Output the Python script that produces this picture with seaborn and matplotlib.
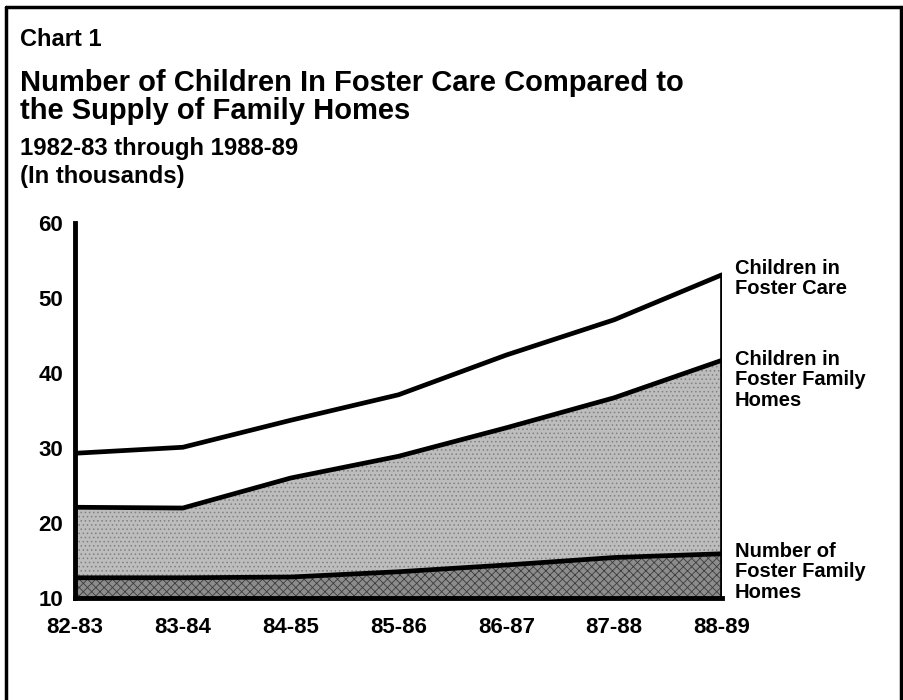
import numpy as np
import pandas as pd
import seaborn as sns
import matplotlib
matplotlib.use("Agg")
import matplotlib.pyplot as plt
from matplotlib.lines import Line2D

# values in thousands
years = ["82-83", "83-84", "84-85", "85-86", "86-87", "87-88", "88-89"]
children_foster_care = [29.3, 30.1, 33.7, 37.1, 42.4, 47.1, 53.1]
children_family_homes = [22.1, 22.0, 26.0, 28.9, 32.7, 36.7, 41.7]
family_homes = [12.7, 12.7, 12.8, 13.5, 14.4, 15.4, 15.9]

series_labels = ["Children in\nFoster Care",
                 "Children in\nFoster Family\nHomes",
                 "Number of\nFoster Family\nHomes"]

sns.set_style("white")
plt.rcParams["font.family"] = ["Liberation Sans", "DejaVu Sans"]
plt.rcParams["font.weight"] = "bold"
plt.rcParams["text.color"] = "black"
plt.rcParams["xtick.color"] = "black"
plt.rcParams["ytick.color"] = "black"
plt.rcParams["hatch.linewidth"] = 0.6

df = pd.DataFrame({
    "pos": np.arange(len(years)),
    "care": children_foster_care,
    "family": children_family_homes,
    "homes": family_homes,
})

fig = plt.figure(figsize=(9.04, 7.0), dpi=100)
ax = fig.add_axes([0.083, 0.1457, 0.7157, 0.5357])

ymin = 10
# shaded areas
ax.fill_between(df["pos"], family_homes, children_family_homes,
                facecolor="#bdbdbd", edgecolor="#808080", hatch="....", lw=0)
ax.fill_between(df["pos"], ymin, family_homes,
                facecolor="#8c8c8c", edgecolor="#3c3c3c", hatch="xxxx", lw=0)

for col in ["care", "family", "homes"]:
    sns.lineplot(data=df, x="pos", y=col, ax=ax, color="black", lw=3.4)

# closing edge at the last year
ax.vlines(df["pos"].iloc[-1], ymin, children_foster_care[-1],
          color="black", lw=3.4)

ax.set_xlim(0, len(years) - 1)
ax.set_ylim(ymin, 60)
ax.set_xlabel("")
ax.set_ylabel("")
ax.set_xticks(df["pos"])
ax.set_xticklabels(years)
ax.set_yticks([10, 20, 30, 40, 50, 60])
ax.tick_params(axis="both", labelsize=16, length=4.5, width=2.5,
               direction="out", color="black", labelcolor="black")
ax.tick_params(axis="x", pad=9)
ax.tick_params(axis="y", pad=4)
for lab in ax.get_xticklabels() + ax.get_yticklabels():
    lab.set_fontweight("bold")

for side in ["top", "right"]:
    ax.spines[side].set_visible(False)
for side in ["left", "bottom"]:
    ax.spines[side].set_linewidth(3.5)
    ax.spines[side].set_color("black")

# labels at the right end
label_y = [children_foster_care[-1], children_family_homes[-1], family_homes[-1]]
offsets = [-0.5, -2.6, -2.4]
for lab, yv, off in zip(series_labels, label_y, offsets):
    ax.annotate(lab, xy=(len(years) - 1, yv + off), xytext=(9, 0),
                textcoords="offset points", ha="left", va="center",
                fontsize=14.5, fontweight="bold", linespacing=1.1,
                color="black", annotation_clip=False)

# headings
fig.text(0.022, 1 - 39 / 700, "Chart 1", fontsize=17, fontweight="bold",
         va="center", ha="left")
fig.text(0.022, 1 - 97 / 700,
         "Number of Children In Foster Care Compared to\nthe Supply of Family Homes",
         fontsize=21, fontweight="bold", va="center", ha="left",
         linespacing=1.0)
fig.text(0.022, 1 - 148 / 700, "1982-83 through 1988-89", fontsize=17.2,
         fontweight="bold", va="center", ha="left")
fig.text(0.022, 1 - 177 / 700, "(In thousands)", fontsize=17.2,
         fontweight="bold", va="center", ha="left")

# page border
for xs, ys in [([6 / 904, 902 / 904], [1 - 7 / 700, 1 - 7 / 700]),
               ([6 / 904, 6 / 904], [1 - 7 / 700, 0]),
               ([901 / 904, 901 / 904], [1 - 7 / 700, 0])]:
    fig.add_artist(Line2D(xs, ys, transform=fig.transFigure,
                          color="black", lw=2.5))

fig.savefig("out.png", dpi=100)
